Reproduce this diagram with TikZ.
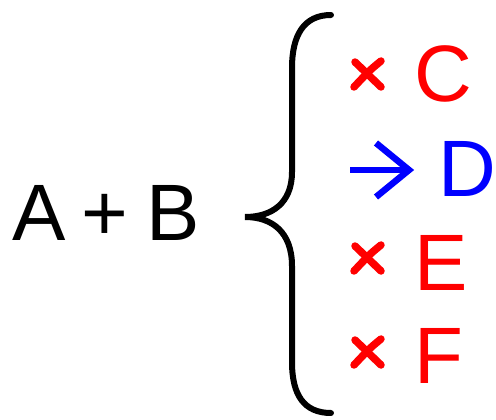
\documentclass[tikz,border=0pt]{standalone}
\usepackage{fontspec}
\setmainfont{Liberation Sans}
\tikzset{
  big/.style={font=\fontsize{80}{96}\selectfont, inner sep=0pt, anchor=base west},
  cross/.style={red, line width=7.5pt, line cap=round},
}
\begin{document}
\begin{tikzpicture}[x=1pt, y=-1pt]
			\useasboundingbox (0,0) rectangle (496,420);
			\node[big] (ab) at (12,240) {A\hspace{16pt}+\hspace{18pt}B};
			\node[big, red] (c) at (414,102) {C};
			\node[big, blue] (d) at (438,196) {D};
			\node[big, red] (e) at (414,290) {E};
			\node[big, red] (f) at (414,383) {F};
			\draw[line width=6pt, line cap=round] (331,15) .. controls (304,15) and (292,35) .. (292,68) -- (292,172) .. controls (292,203) and (272,217) .. (245,217) .. controls (272,217) and (292,232) .. (292,266) -- (292,362) .. controls (292,395) and (304,413) .. (331,413);
			\draw[cross] (355,62) -- (381,87);
			\draw[cross] (381,61) .. controls (370,70) .. (354,87);
			\draw[blue, line width=6.5pt] (350,170) -- (411,170);
			\draw[blue, line width=6.5pt] (376,143) -- (409,170) -- (376,197);
			\draw[cross] (355,246) -- (381,271);
			\draw[cross] (381,245) .. controls (370,254) .. (354,271);
			\draw[cross] (355,340) -- (381,365);
			\draw[cross] (381,339) .. controls (370,348) .. (354,365);
		\end{tikzpicture}
\end{document}
